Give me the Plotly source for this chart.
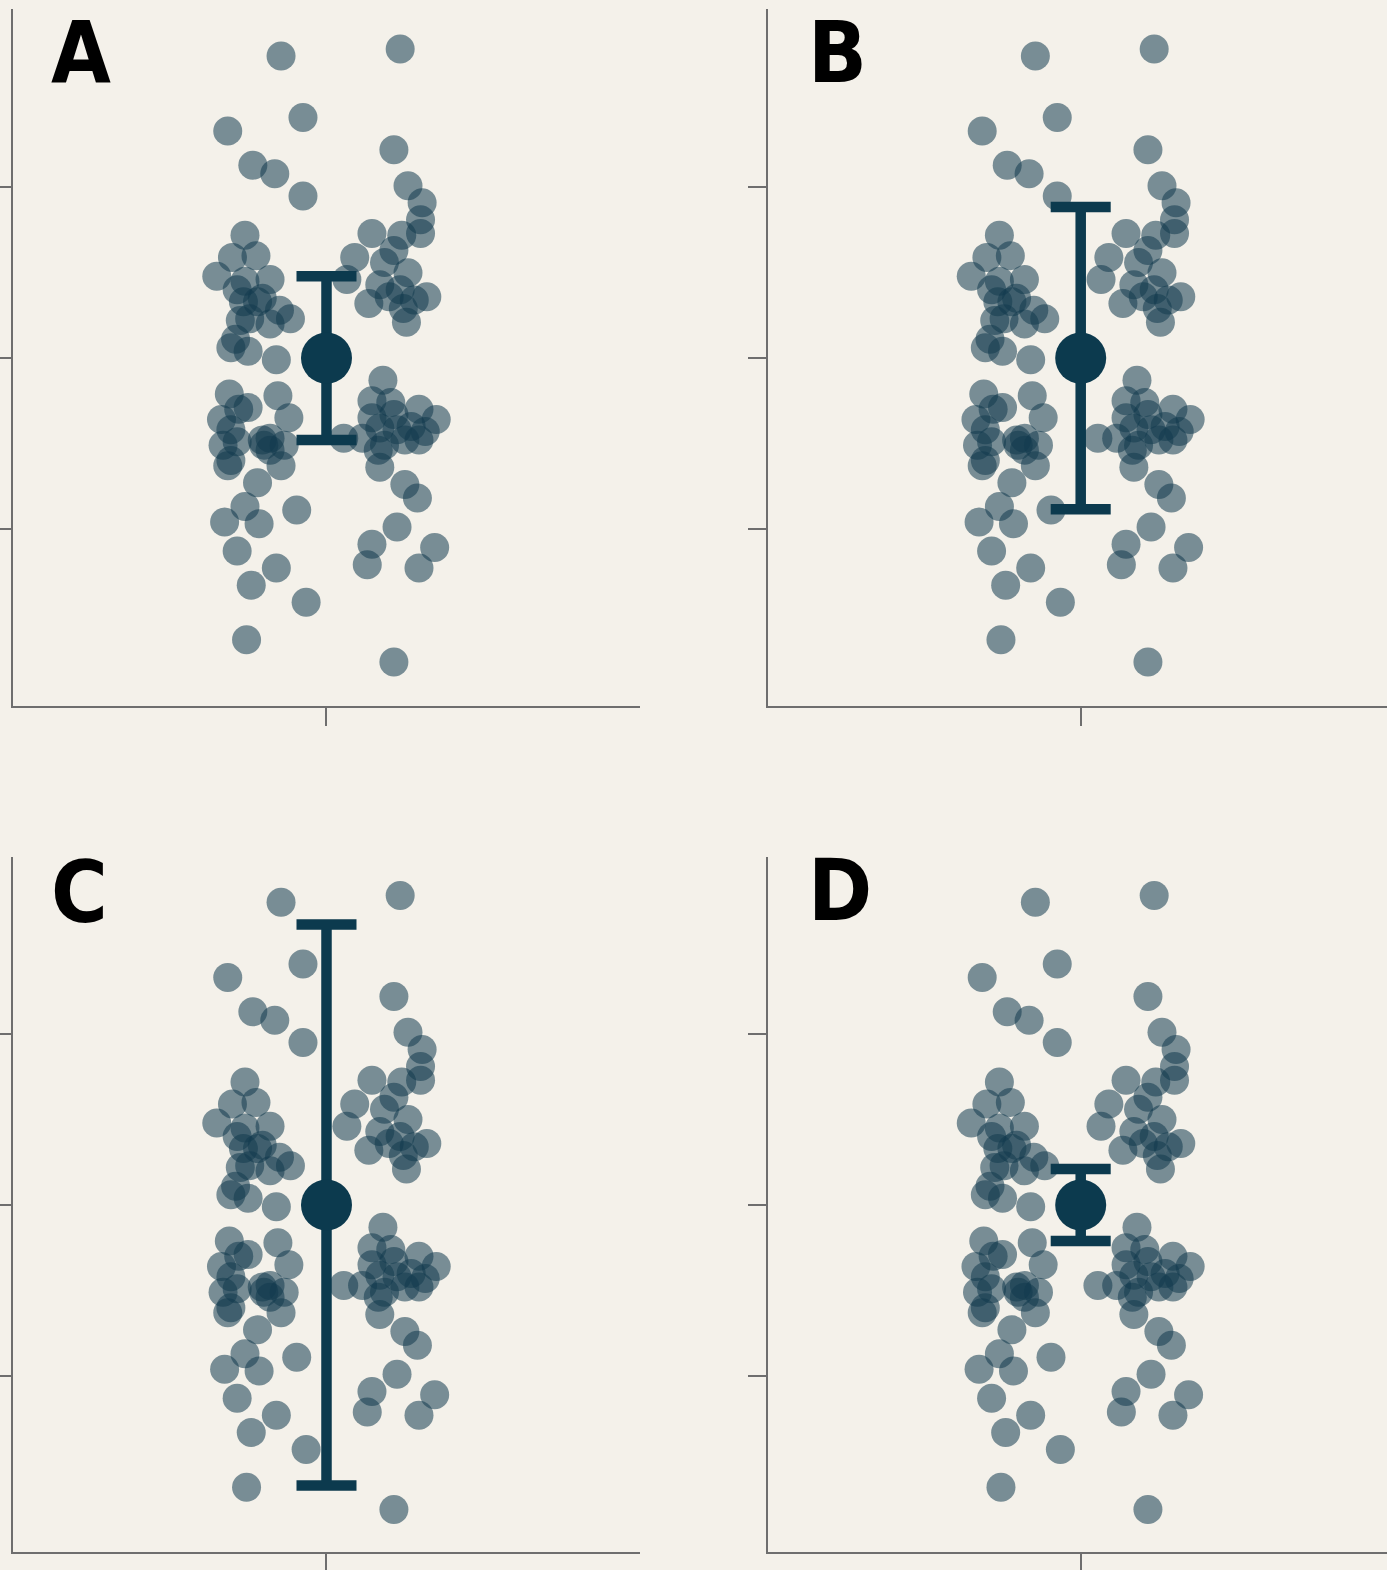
import plotly.graph_objects as go

# ---- data (same jittered sample shown in every panel) ----
jitter_x = [-0.29, 0.47, -0.15, -0.63, 0.43, -0.47, -0.33, -0.15, 0.52, 0.61, 0.60,
            -0.52, -0.60, -0.45, -0.70, -0.52, -0.36, -0.53, -0.30, -0.23, -0.55, -0.36,
            -0.58, -0.61, -0.50, -0.32,
            0.29, 0.48, 0.60, 0.18, 0.37, 0.52, 0.13, 0.34, 0.64, 0.27, 0.49, 0.51, 0.40,
            -0.62, -0.50, -0.67, -0.31, -0.24, -0.57, -0.36, -0.63, -0.29, -0.44, -0.52,
            -0.19, -0.65, -0.43, -0.57, -0.32, -0.48, -0.13, -0.51, -0.36, -0.61,
            0.36, 0.29, 0.41, 0.11, 0.23, 0.34, 0.45, 0.59, 0.70, 0.59, 0.54, 0.34, 0.50,
            0.58, 0.45, 0.29, 0.26, 0.69, 0.59, 0.43, 0.33,
            -0.44, -0.66, 0.43, -0.40,
            -0.41, -0.49, -0.57, -0.56, -0.41, -0.27, -0.61,
            0.43, 0.47, 0.56, 0.29, 0.50, 0.63, 0.37]
values = [67.7, 68.1, 64.1, 63.3, 62.2, 61.3, 60.8, 59.5, 60.1, 59.1, 58.1,
          57.2, 55.9, 56.0, 54.8, 54.5, 54.6, 53.3, 52.8, 52.3, 52.2, 52.0,
          51.1, 50.6, 50.4, 49.9,
          57.3, 57.2, 57.3, 55.9, 55.6, 55.0, 54.6, 54.3, 53.6, 53.2, 52.9, 52.1, 53.6,
          47.9, 47.1, 46.4, 47.8, 46.5, 45.1, 45.3, 43.7, 43.7, 42.7, 41.3,
          41.1, 40.4, 40.3, 38.7, 37.7, 36.7, 35.7, 33.5, 44.6, 44.0,
          48.7, 47.5, 47.4, 45.3, 45.3, 45.9, 45.8, 47.0, 46.4, 45.2, 46.0, 43.6, 42.6,
          41.8, 40.1, 39.1, 37.9, 38.9, 37.7, 32.2, 44.6,
          53.3, 44.9, 46.7, 44.9,
          53.5, 52.3, 54.0, 47.0, 45.2, 44.9, 45.8,
          56.3, 54.0, 53.4, 46.5, 45.2, 45.7, 44.9]

panels = ["A", "B", "C", "D"]
mean_value = 50
error_sizes = [4.8, 8.85, 16.4, 2.1]
y_ticks = [40, 50, 60]

BG = "#F4F1EA"
DARK = "#0C3A4E"
AXIS = "#6E6E6E"

fig = go.Figure()

x_domains = [[0.00937, 0.46143], [0.55371, 1.0], [0.00937, 0.46143], [0.55371, 1.0]]
y_domains = [[0.55032, 0.99427], [0.55032, 0.99427], [0.01146, 0.45414], [0.01146, 0.45414]]
x_ranges = [[-2, 2], [-2, 1.959], [-2, 2], [-2, 1.959]]
y_ranges = [[29.62, 70.45], [29.62, 70.45], [29.71, 70.35], [29.71, 70.35]]

for i, name in enumerate(panels):
    sfx = "" if i == 0 else str(i + 1)
    fig.add_trace(go.Scatter(
        x=jitter_x, y=values, mode="markers",
        marker=dict(size=29, color="#123A4E", opacity=0.55, line=dict(width=0)),
        xaxis="x" + sfx, yaxis="y" + sfx, showlegend=False, hoverinfo="skip"))
    fig.add_trace(go.Scatter(
        x=[0], y=[mean_value], mode="markers",
        marker=dict(size=51, color=DARK, line=dict(width=0)),
        error_y=dict(type="constant", value=error_sizes[i], color=DARK,
                     thickness=10.5, width=30),
        xaxis="x" + sfx, yaxis="y" + sfx, showlegend=False, hoverinfo="skip"))

    common = dict(showline=True, linecolor=AXIS, linewidth=2, ticks="outside",
                  ticklen=18, tickwidth=2, tickcolor=AXIS, showgrid=False,
                  zeroline=False, showticklabels=False, fixedrange=True,
                  automargin=False)
    fig.update_layout(**{
        "xaxis" + sfx: dict(domain=x_domains[i], range=x_ranges[i], tickvals=[0],
                            anchor="y" + sfx, **common),
        "yaxis" + sfx: dict(domain=y_domains[i], range=y_ranges[i], tickvals=y_ticks,
                            anchor="x" + sfx, **common),
    })

label_pos = [(49 / 1387, 1.0), (806 / 1387, 1.0),
             (49 / 1387, 1 - 840 / 1570), (806 / 1387, 1 - 838 / 1570)]
for name, (lx, ly) in zip(panels, label_pos):
    fig.add_annotation(text="<b>" + name + "</b>", x=lx, y=ly, xref="paper", yref="paper",
                       xanchor="left", yanchor="top", showarrow=False,
                       font=dict(family="Liberation Sans Narrow, DejaVu Sans Condensed, sans-serif",
                                 size=86, color="#000000"))

fig.update_layout(width=1387, height=1570, margin=dict(l=0, r=0, t=0, b=0, autoexpand=False),
                  paper_bgcolor=BG, plot_bgcolor=BG)

fig.write_html("out.html", config={"displayModeBar": False},
               post_script="document.body.style.margin='0';document.body.style.background='" + BG + "';")
